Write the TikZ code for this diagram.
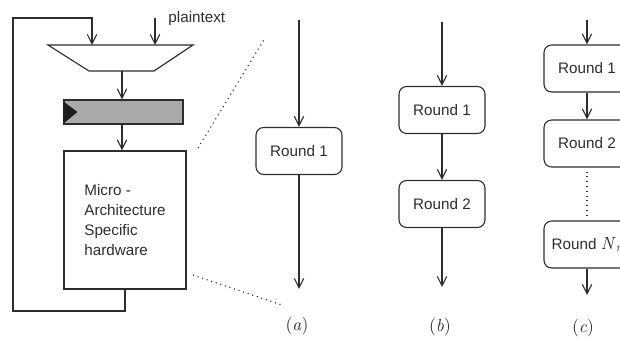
\documentclass[tikz,border=0pt]{standalone}
\usepackage[no-math]{fontspec}
\setmainfont{Liberation Sans}
\newfontfamily\capfont{lmroman10}[Extension=.otf,UprightFont=*-regular,ItalicFont=*-italic]
\usetikzlibrary{arrows.meta,positioning,calc}
\definecolor{linegray}{RGB}{45,45,45}
\definecolor{reggray}{RGB}{170,170,170}

\begin{document}
\begin{tikzpicture}
    [x=0.03cm,y=-0.03cm,>={Straight Barb[length=8pt,width=8pt]},
     color=linegray,line width=0.95pt,
     every node/.style={font=\fontsize{13}{17}\selectfont},
     captxt/.style={font=\fontsize{15}{17}\capfont},
     rnd/.style={draw,rounded corners=6.5pt,minimum width=2.58cm,minimum height=1.41cm},
     hwbox/.style={draw,align=left,minimum width=3.66cm,minimum height=4.14cm},
     regbox/.style={draw,fill=reggray,minimum width=3.57cm,minimum height=0.72cm},
     dots/.style={line width=1pt,dash pattern=on 0.9pt off 3.2pt}]

    \useasboundingbox (0,0) rectangle (620,339);

    % multiplexer, register and hardware block
    \draw (48,45) coordinate (mtl) -- (193,45) -- (154,71) -- (89,71) -- cycle;
    \coordinate (in1) at (92,45);
    \coordinate (in2) at (155,45);
    \coordinate (mout) at (122,71);
    \node[regbox] (reg) at (123.5,112) {};
    \fill[black!88] ([yshift=-0.06cm]reg.north west) -- ([xshift=0.42cm]reg.west)
        -- ([yshift=0.03cm]reg.south west) -- cycle;
    \node[hwbox] (hw) at (125,220) {Micro -\\Architecture\\Specific\\hardware};

    \coordinate (pt) at (155,18);
    \node[anchor=west] (ptlabel) at (164,19) {plaintext};
    \coordinate (lb) at (13,311);
    \coordinate (lt) at (13,18);

    \draw[->] (pt) -- (in2);
    \draw[->] (hw.south) |- (lb) -- (lt) -| (in1);
    \draw[->] (mout) -- (mout |- reg.north);
    \draw[->] (mout |- reg.south) -- (mout |- hw.north);

    \draw[dots] (198,148) -- (265,38);
    \draw[dots] (193,275) -- (282,305);

    % (a)
    \node[rnd] (a1) at (299,151) {Round 1};
    \coordinate (atop) at (299,20);
    \coordinate (abot) at (299,289);
    \draw[->] (atop) -- (a1);
    \draw[->] (a1) -- (abot);
    \node[captxt] (capa) at (297,326) {(\textit{a})};

    % (b)
    \node[rnd] (b1) at (442,110) {Round 1};
    \node[rnd] (b2) at (442,204) {Round 2};
    \coordinate (btop) at (442,22);
    \coordinate (bbot) at (442,287);
    \draw[->] (btop) -- (b1);
    \draw[->] (b1) -- (b2);
    \draw[->] (b2) -- (bbot);
    \node[captxt] (capb) at (440,327) {(\textit{b})};

    % (c)
    \node[rnd] (c1) at (587,68.5) {Round 1};
    \node[rnd] (c2) at (587,143.5) {Round 2};
    \node[rnd] (cn) at (587,244.5) {Round {\capfont\fontsize{15}{17}\selectfont\textit{N}\textsubscript{\textit{r}}}};
    \coordinate (ctop) at (587,20);
    \coordinate (cbot) at (587,295);
    \draw[->] (ctop) -- (c1);
    \draw[->] (c1) -- (c2);
    \draw[dots] ([yshift=-0.12cm]c2.south) -- ([yshift=0.15cm]cn.north);
    \draw[->] (cn) -- (cbot);
    \node[captxt] (capc) at (583,328) {(\textit{c})};

\end{tikzpicture}
\end{document}
